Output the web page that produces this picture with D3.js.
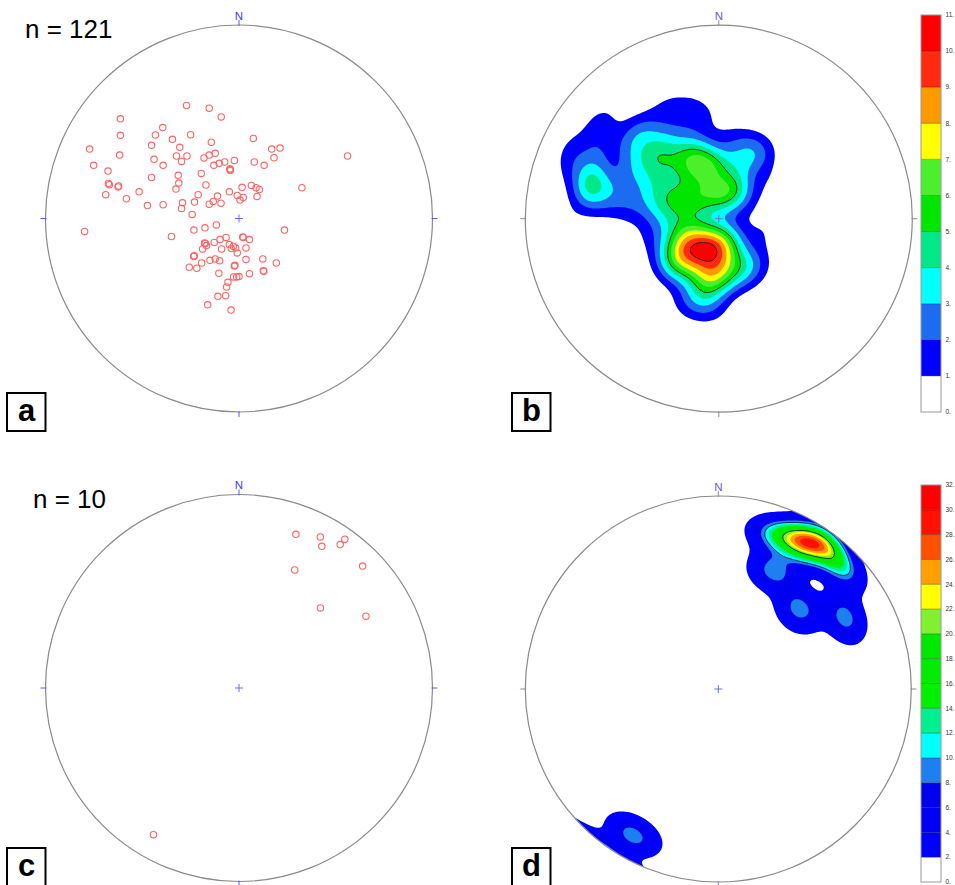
<!DOCTYPE html>
<html>
<head>
<meta charset="utf-8">
<script src="https://cdn.jsdelivr.net/npm/d3@7"></script>
<style>
  body { margin: 0; background: #fff; }
  svg { display: block; }
</style>
</head>
<body>
<svg id="fig" width="955" height="885"></svg>
<script>
// Poles on the lower-hemisphere equal-area net, given as east / north
// offsets in percent of the net radius.
const polesAEast = [
  -27.1, -15.4, -9.2, -61.3, -61.3, -39.4, -43.2, -34.4, -25.0, -45.2,
  -30.6, -14.3, 7.4, -77.2, -61.7, -32.3, -26.9, -29.7, -43.9, -18.1,
  -15.4, -12.3, 16.9, 21.2, 18.1, 56.1, -75.1, -39.2, -13.0, -10.2,
  -7.4, -2.4, -4.7, -4.5, 7.9, 13.0, -67.7, -19.5, -31.4, -45.2,
  -67.5, -62.2, -31.1, -32.6, -17.1, 6.4, 1.6, 8.8, 10.5, 32.5,
  -51.6, -5.0, -68.9, -58.2, -21.1, -11.1, -0.9, 2.2, 0.5, 9.3,
  -47.3, -39.2, -29.2, -29.7, -23.0, -13.3, -15.4, -9.3, -24.2, -79.8,
  -34.9, -23.3, -17.6, -11.7, 23.5, 1.9, 5.4, -9.8, -6.7, -17.8,
  -16.8, -12.8, -18.8, -9.0, -5.0, -2.9, -4.0, -1.7, -0.9, 3.6,
  -23.1, -15.0, -12.3, -10.0, 3.6, 12.3, 19.3, -25.7, -21.8, -19.3,
  -2.1, -10.4, 5.4, 12.8, -2.8, -1.2, 0.0, -5.7, -6.4, -10.9,
  -6.9, -16.2, -4.1, -67.0, -62.5, 12.6, -17.4, -23.4, -2.4, -4.5, 2.2
];
const polesANorth = [
  58.4, 57.0, 52.5, 51.5, 43.0, 47.0, 43.2, 40.9, 43.3, 37.8,
  36.8, 39.4, 41.4, 35.9, 32.8, 32.3, 32.3, 29.5, 30.6, 31.3,
  32.8, 33.7, 35.9, 36.4, 31.4, 32.3, 27.5, 27.5, 27.5, 28.5,
  29.2, 30.0, 25.7, 24.9, 29.2, 27.5, 24.5, 23.3, 22.3, 21.2,
  18.1, 16.8, 18.3, 15.2, 17.3, 17.1, 16.1, 15.9, 15.0, 15.9,
  13.8, 13.8, 12.3, 10.2, 12.3, 11.6, 11.9, 10.9, 9.5, 11.4,
  6.7, 7.1, 8.1, 5.2, 8.5, 8.8, 7.4, 7.9, 2.1, -6.7,
  -9.3, -6.0, -4.8, -3.3, -6.0, -9.5, -10.9, -10.9, -9.8, -12.6,
  -14.0, -12.4, -15.7, -15.7, -13.5, -14.3, -15.5, -15.2, -17.8, -15.2,
  -19.3, -21.6, -20.9, -21.8, -21.2, -20.9, -23.0, -25.2, -25.7, -23.0,
  -24.2, -28.3, -28.5, -27.3, -30.2, -30.2, -30.0, -33.0, -35.4, -40.2,
  -39.9, -44.6, -47.3, 17.5, 16.3, -27.0, -12.9, -19.6, -24.6, 25.2, -9.8
];
const polesCEast  = [29.4, 42.0, 42.8, 52.3, 54.7, 28.8, 63.9, 42.1, 65.6, -44.2];
const polesCNorth = [79.4, 78.1, 73.2, 74.1, 76.9, 61.0, 63.0, 41.4, 37.1, -75.8];

const countLabels = ["n = 121", "n = 10"];
const panelLetters = ["a", "b", "c", "d"];

// Density class limits (% of total per 1 % area)
const levelsB = d3.range(0, 12, 1);   // 0 … 11
const levelsD = d3.range(0, 34, 2);   // 0 … 32
const majorB = [5, 10];
const majorD = [10, 20, 30];

const paletteB = ["#ffffff", "#0000ff", "#1c6cf2", "#00ffff", "#00e887", "#00e600",
                  "#4cf02a", "#ffff00", "#ff9900", "#ff2a10", "#ff0000"];
const paletteD = ["#ffffff", "#0000ff", "#0000f6", "#0000ee", "#1e7ff0", "#00ffff",
                  "#00f090", "#00f000", "#00ec00", "#00e800", "#80f030", "#ffff00",
                  "#ffa000", "#ff5000", "#ff1000", "#ff0000"];

const KAPPA = 95;   // Fisher concentration of the smoothing kernel
const FONT = "Arial, 'Liberation Sans', Helvetica, sans-serif";

const svg = d3.select("#fig");
const defs = svg.append("defs");

const nets = {
  a: { cx: 239,   cy: 218.5, R: 193.5 },
  b: { cx: 718.8, cy: 218.7, R: 193.5 },
  c: { cx: 239,   cy: 688,   R: 193.5 },
  d: { cx: 718.3, cy: 689,   R: 193 }
};

function netScales(p) {
  return {
    x: d3.scaleLinear([-100, 100], [p.cx - p.R, p.cx + p.R]),
    y: d3.scaleLinear([-100, 100], [p.cy + p.R, p.cy - p.R]),
    proj: d3.geoAzimuthalEqualArea().rotate([0, -90])
      .scale(p.R / Math.SQRT2).translate([p.cx, p.cy])
  };
}

function toVec(ll) {
  const l = ll[0] * Math.PI / 180, f = ll[1] * Math.PI / 180;
  return [Math.cos(f) * Math.cos(l), Math.cos(f) * Math.sin(l), Math.sin(f)];
}

// Axial Fisher-kernel density evaluated on a regular pixel grid
function densityGrid(p, east, north, kappa, step) {
  const s = netScales(p);
  const pts = east.map((e, i) => toVec(s.proj.invert([s.x(e), s.y(north[i])])));
  const pad = 6;
  const x0 = p.cx - p.R - pad, y0 = p.cy - p.R - pad;
  const nx = Math.ceil((2 * p.R + 2 * pad) / step) + 1, ny = nx;
  const values = new Float64Array(nx * ny);
  const n = pts.length;
  for (let j = 0; j < ny; j++) {
    for (let i = 0; i < nx; i++) {
      const ll = s.proj.invert([x0 + i * step, y0 + j * step]);
      if (!ll || isNaN(ll[0]) || isNaN(ll[1])) { values[j * nx + i] = 0; continue; }
      const v = toVec(ll);
      let sum = 0;
      for (let k = 0; k < n; k++) {
        const q = pts[k];
        const c = v[0] * q[0] + v[1] * q[1] + v[2] * q[2];
        sum += Math.exp(kappa * (c - 1)) + Math.exp(-kappa * (c + 1));
      }
      values[j * nx + i] = sum * kappa / n;
    }
  }
  return { values, nx, ny, x0, y0, step };
}

function drawFrame(g, p, style) {
  g.append("circle").attr("cx", p.cx).attr("cy", p.cy).attr("r", p.R)
    .attr("fill", "none").attr("stroke", "#8a8a8a").attr("stroke-width", 1.2);
  [[0, -1], [1, 0], [0, 1], [-1, 0]].forEach(([ux, uy]) => {
    g.append("line")
      .attr("x1", p.cx + ux * (p.R - 1)).attr("y1", p.cy + uy * (p.R - 1))
      .attr("x2", p.cx + ux * (p.R + 5)).attr("y2", p.cy + uy * (p.R + 5))
      .attr("stroke", style.tick).attr("stroke-width", 1);
  });
  g.append("path")
    .attr("d", `M${p.cx - 4},${p.cy}H${p.cx + 4}M${p.cx},${p.cy - 4}V${p.cy + 4}`)
    .attr("stroke", style.cross).attr("stroke-width", 1);
  g.append("text").attr("x", p.cx).attr("y", p.cy - p.R - 5.5)
    .attr("text-anchor", "middle").attr("font-family", FONT).attr("font-size", 11.5)
    .attr("fill", style.north).text("N");
}

function drawPoles(g, p, east, north) {
  const s = netScales(p);
  g.append("g").selectAll("circle").data(east).join("circle")
    .attr("cx", d => s.x(d)).attr("cy", (d, i) => s.y(north[i])).attr("r", 3.2)
    .attr("fill", "none").attr("stroke", "#ff6464").attr("stroke-width", 1.1);
}

function drawDensity(g, p, grid, levels, palette, majors, id) {
  defs.append("clipPath").attr("id", id).append("circle")
    .attr("cx", p.cx).attr("cy", p.cy).attr("r", p.R);
  const path = d3.geoPath(d3.geoIdentity().scale(grid.step)
    .translate([grid.x0 - grid.step / 2, grid.y0 - grid.step / 2]));
  const gen = d3.contours().size([grid.nx, grid.ny]);
  const cg = g.append("g").attr("clip-path", `url(#${id})`);
  for (let k = 1; k < levels.length - 1; k++) {
    cg.append("path").attr("d", path(gen.contour(grid.values, levels[k])))
      .attr("fill", palette[k]);
  }
  majors.forEach(lv => {
    cg.append("path").attr("d", path(gen.contour(grid.values, lv)))
      .attr("fill", "none").attr("stroke", "#111").attr("stroke-width", 0.8);
  });
}

function drawColorBar(g, x, top, bottom, levels, palette) {
  const y = d3.scaleLinear([levels[0], levels[levels.length - 1]], [bottom, top]);
  palette.forEach((c, k) => {
    g.append("rect").attr("x", x).attr("y", y(levels[k + 1])).attr("width", 20)
      .attr("height", y(levels[k]) - y(levels[k + 1])).attr("fill", c);
  });
  levels.slice(1, -1).forEach(v => {
    g.append("line").attr("x1", x).attr("x2", x + 20).attr("y1", y(v)).attr("y2", y(v))
      .attr("stroke", "#000").attr("stroke-opacity", 0.3).attr("stroke-width", 1);
  });
  g.append("rect").attr("x", x).attr("y", top).attr("width", 20).attr("height", bottom - top)
    .attr("fill", "none").attr("stroke", "#9a9a9a").attr("stroke-width", 1);
  g.selectAll("text.lab").data(levels).join("text").attr("class", "lab")
    .attr("x", x + 24.5).attr("y", v => Math.min(y(v) + 2.3, 884))
    .attr("font-family", FONT).attr("font-size", 6.5).attr("fill", "#333")
    .text(v => v + ".");
}

function drawLetter(g, x, y, letter) {
  g.append("rect").attr("x", x).attr("y", y).attr("width", 38.5).attr("height", 38)
    .attr("fill", "#fff").attr("stroke", "#000").attr("stroke-width", 2);
  g.append("text").attr("x", x + 19.5).attr("y", y + 28)
    .attr("text-anchor", "middle").attr("font-family", FONT).attr("font-weight", "bold")
    .attr("font-size", 31).attr("fill", "#000").text(letter);
}

const pointStyle = { tick: "#5a5aff", cross: "#6a6aff", north: "#3c3cff" };
const densStyle  = { tick: "#8a8aa0", cross: "#7070d0", north: "#6a5ccc" };

// a — pole plot
const gA = svg.append("g");
drawFrame(gA, nets.a, pointStyle);
drawPoles(gA, nets.a, polesAEast, polesANorth);

// b — density of the poles in a
const gB = svg.append("g");
const gridB = densityGrid(nets.b, polesAEast, polesANorth, KAPPA, 2);
drawDensity(gB, nets.b, gridB, levelsB, paletteB, majorB, "clipB");
drawFrame(gB, nets.b, densStyle);
drawColorBar(svg.append("g"), 921, 15, 412, levelsB, paletteB);

// c — pole plot
const gC = svg.append("g");
drawFrame(gC, nets.c, pointStyle);
drawPoles(gC, nets.c, polesCEast, polesCNorth);

// d — density of the poles in c
const gD = svg.append("g");
const gridD = densityGrid(nets.d, polesCEast, polesCNorth, KAPPA, 2);
drawDensity(gD, nets.d, gridD, levelsD, paletteD, majorD, "clipD");
drawFrame(gD, nets.d, densStyle);
drawColorBar(svg.append("g"), 921, 485, 882, levelsD, paletteD);

// sample counts
svg.append("text").attr("x", 25).attr("y", 38).attr("font-family", FONT)
  .attr("font-size", 26).attr("fill", "#000").text(countLabels[0]);
svg.append("text").attr("x", 33).attr("y", 507.5).attr("font-family", FONT)
  .attr("font-size", 26).attr("fill", "#000").text(countLabels[1]);

// panel letters
drawLetter(svg, 7, 393, panelLetters[0]);
drawLetter(svg, 512, 393, panelLetters[1]);
drawLetter(svg, 7, 848, panelLetters[2]);
drawLetter(svg, 512, 848, panelLetters[3]);
</script>
</body>
</html>
